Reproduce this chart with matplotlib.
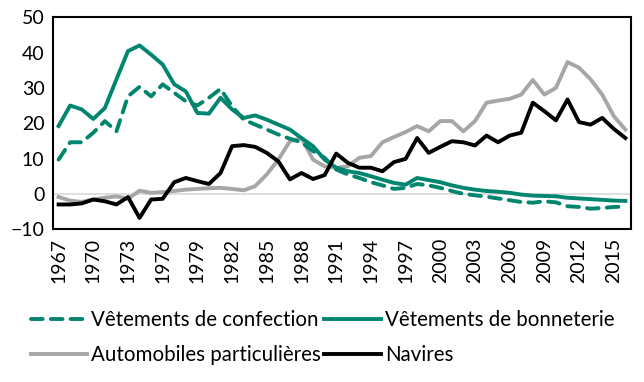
import numpy as np
import matplotlib
matplotlib.use('Agg')
import matplotlib.pyplot as plt

years = list(range(1967, 2017))

confection = [9.7, 14.6, 14.6, 17.3, 20.6, 17.7, 27.6, 30.3, 27.6, 31.0,
              28.6, 26.2, 25.0, 27.2, 29.7, 24.8, 21.0, 19.6, 18.2, 16.8,
              15.6, 14.6, 12.1, 10.2, 6.9, 5.5, 4.5, 3.3, 2.4, 1.4,
              1.7, 2.8, 2.4, 1.7, 0.8, 0.0, -0.4, -0.8, -1.3, -1.8,
              -2.3, -2.5, -2.1, -2.4, -3.5, -3.7, -4.2, -4.0, -3.7, -3.6]

bonneterie = [19.2, 25.0, 23.9, 21.2, 24.3, 32.4, 40.4, 42.0, 39.4, 36.6,
              31.0, 29.0, 22.9, 22.7, 27.2, 23.9, 21.5, 22.2, 21.0, 19.6,
              18.2, 15.8, 13.5, 9.7, 7.4, 6.4, 5.9, 5.0, 4.0, 3.1,
              2.6, 4.5, 3.9, 3.3, 2.4, 1.7, 1.2, 0.8, 0.6, 0.3,
              -0.2, -0.5, -0.6, -0.7, -1.1, -1.3, -1.5, -1.7, -1.9, -2.0]

automobiles = [-0.9, -1.9, -2.3, -1.6, -1.1, -0.7, -1.4, 0.9, 0.3, 0.5,
               0.8, 1.2, 1.4, 1.6, 1.7, 1.4, 1.0, 2.2, 5.5, 9.7,
               14.9, 15.8, 9.7, 7.8, 7.4, 7.8, 10.2, 10.7, 14.6, 16.1,
               17.5, 19.2, 17.7, 20.6, 20.6, 17.7, 20.6, 25.8, 26.4, 26.9,
               28.1, 32.2, 28.1, 30.0, 37.3, 35.7, 32.4, 28.1, 22.0, 18.2]

navires = [-3.0, -3.0, -2.7, -1.6, -2.1, -3.0, -0.9, -6.8, -1.6, -1.4,
           3.3, 4.5, 3.6, 2.8, 5.9, 13.5, 13.8, 13.3, 11.6, 9.2,
           4.1, 5.9, 4.2, 5.3, 11.4, 8.8, 7.4, 7.4, 6.4, 9.0,
           9.9, 15.8, 11.6, 13.3, 14.9, 14.6, 13.7, 16.5, 14.6, 16.5,
           17.3, 25.8, 23.4, 20.8, 26.7, 20.3, 19.6, 21.5, 18.4, 15.8]

teal = '#00856F'
plt.rcParams['font.family'] = ['Lato', 'DejaVu Sans']

fig = plt.figure(figsize=(6.44, 3.82), dpi=100)
ax = fig.add_axes([0.082, 0.400, 0.898, 0.555])

ax.axhline(0, color='#D9D9D9', lw=1.2, zorder=1)
l1, = ax.plot(years, confection, color=teal, lw=2.8, dashes=(3.0, 2.1),
              dash_capstyle='round', label='Vêtements de confection', zorder=3)
l2, = ax.plot(years, bonneterie, color=teal, lw=2.8, label='Vêtements de bonneterie', zorder=3)
l3, = ax.plot(years, automobiles, color='#A6A6A6', lw=2.8, label='Automobiles particulières', zorder=2)
l4, = ax.plot(years, navires, color='black', lw=2.8, label='Navires', zorder=4)

ax.set_xlim(1966.5, 2016.5)
ax.set_ylim(-10, 50)
ax.set_yticks(range(-10, 51, 10))
ax.set_xticks(range(1967, 2016, 3))
ax.set_xticklabels([str(y) for y in range(1967, 2016, 3)], rotation=90)
ax.tick_params(length=0, labelsize=14, pad=6)
for s in ax.spines.values():
    s.set_linewidth(1.5)
    s.set_color('black')

fig.legend([l1, l3, l2, l4],
           [l1.get_label(), l3.get_label(), l2.get_label(), l4.get_label()],
           ncol=2, loc='upper left', bbox_to_anchor=(0.035, 0.21),
           frameon=False, fontsize=14.8, handlelength=2.75, handletextpad=0.2,
           columnspacing=0.15, labelspacing=0.75, borderaxespad=0)

fig.savefig('out.png', dpi=100)
